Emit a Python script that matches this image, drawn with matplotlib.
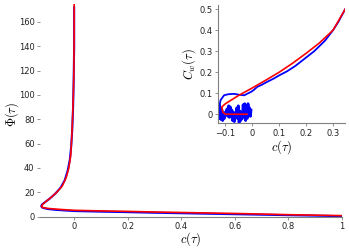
import matplotlib
matplotlib.use("Agg")
import matplotlib.pyplot as plt

plt.rcParams["mathtext.fontset"] = "cm"
plt.rcParams["font.family"] = ["DejaVu Sans"]

# main panel: Phi(tau) against c(tau)
MAIN_C_SIM = [0.0, 0.0, -0.002, -0.004, -0.007, -0.011, -0.016, -0.024, -0.035, -0.05,
              -0.07, -0.09, -0.108, -0.12, -0.123, -0.118, -0.1, -0.07, -0.03, 0.0,
              0.1, 0.2, 0.3, 0.4, 0.5, 0.6, 0.7, 0.8, 0.9, 1.0]
MAIN_PHI_SIM = [172, 140, 110, 90, 72, 58, 47, 38, 30, 24,
                19, 15, 12, 10, 8.5, 7.3, 6.3, 5.6, 5.0, 4.6,
                4.1, 3.7, 3.2, 2.8, 2.4, 2.0, 1.6, 1.2, 0.8, 0.4]
MAIN_C_TH = [0.0, 0.0, -0.001, -0.003, -0.006, -0.009, -0.013, -0.02, -0.03, -0.045,
             -0.065, -0.085, -0.105, -0.118, -0.122, -0.118, -0.1, -0.07, -0.03, 0.0,
             0.1, 0.2, 0.3, 0.4, 0.5, 0.6, 0.7, 0.8, 0.9, 1.0]
MAIN_PHI_TH = [175, 150, 120, 100, 80, 65, 50, 40, 32, 25,
               20, 16, 12.5, 10, 8.5, 7.5, 6.8, 6.2, 5.6, 5.2,
               4.7, 4.3, 3.8, 3.4, 3.0, 2.6, 2.1, 1.6, 1.2, 0.8]

# inset: C_w(tau) against c(tau)
INSET_C_TH = [-0.02, -0.06, -0.1, -0.11, -0.113, -0.1, -0.05, 0.0, 0.05, 0.1,
              0.15, 0.2, 0.25, 0.3, 0.345]
INSET_CW_TH = [0.0, 0.0, 0.0, 0.01, 0.035, 0.05, 0.09, 0.125, 0.162, 0.2,
               0.243, 0.29, 0.34, 0.4, 0.5]
INSET_C_SIM_UP = [-0.125, -0.122, -0.118, -0.105, -0.09, -0.068, -0.05, -0.03, -0.015, -0.005,
                  0.005, 0.018, 0.035, 0.055, 0.08, 0.1, 0.13, 0.16, 0.2, 0.23,
                  0.25, 0.27, 0.3, 0.32, 0.345]
INSET_CW_SIM_UP = [0.01, 0.04, 0.067, 0.09, 0.095, 0.097, 0.093, 0.09, 0.1, 0.106,
                   0.115, 0.13, 0.14, 0.154, 0.17, 0.185, 0.205, 0.23, 0.27, 0.3,
                   0.325, 0.35, 0.4, 0.44, 0.5]
INSET_C_SIM_LOW = [-0.125, -0.123, -0.121, -0.119, -0.116, -0.113, -0.11, -0.107, -0.104, -0.1,
                   -0.097, -0.094, -0.091, -0.088, -0.085, -0.082, -0.079, -0.076, -0.073, -0.07,
                   -0.067, -0.064, -0.061, -0.058, -0.055, -0.052, -0.049, -0.046, -0.043, -0.04,
                   -0.037, -0.034, -0.031, -0.028, -0.025, -0.022, -0.019, -0.016, -0.013, -0.01,
                   -0.007, -0.005]
INSET_CW_SIM_LOW = [0.01, 0.045, -0.02, 0.03, -0.025, 0.02, -0.03, 0.005, -0.02, 0.01,
                    0.0, 0.025, -0.01, 0.04, -0.015, 0.035, 0.005, 0.02, -0.03, 0.01,
                    -0.035, 0.0, -0.01, 0.03, -0.02, 0.04, -0.04, 0.015, -0.03, 0.0,
                    -0.02, 0.045, -0.01, 0.05, -0.03, 0.02, -0.02, 0.05, 0.0, 0.03,
                    -0.01, 0.02]

RED = "#ff0000"
BLUE = "#0000ff"
GREY = "#808080"

fig = plt.figure(figsize=(3.49, 2.49), dpi=100)

ax = fig.add_axes([0.115, 0.13, 0.865, 0.855])
ax.plot(MAIN_C_SIM, MAIN_PHI_SIM, color=BLUE, lw=1.5)
ax.plot(MAIN_C_TH, MAIN_PHI_TH, color=RED, lw=1.2)
ax.set_xlim(-0.127, 1.0)
ax.set_ylim(0, 175)
ax.set_xticks([0, 0.2, 0.4, 0.6, 0.8, 1])
ax.set_xticklabels(["0", "0.2", "0.4", "0.6", "0.8", "1"])
ax.set_yticks(range(0, 161, 20))
for s in ["top", "right", "left"]:
    ax.spines[s].set_visible(False)
ax.spines["bottom"].set_color(GREY)
ax.spines["bottom"].set_linewidth(0.8)
ax.tick_params(labelsize=6, length=2, width=0.6, color=GREY, pad=2, labelcolor="#222222")
ax.set_xlabel(r"$c(\tau)$", fontsize=9)
ax.xaxis.set_label_coords(0.5, -0.062)
ax.set_ylabel(r"$\Phi(\tau)$", fontsize=9)
ax.yaxis.set_label_coords(-0.065, 0.48)

ins = fig.add_axes([0.625, 0.505, 0.364, 0.475])
ins.plot(INSET_C_SIM_UP, INSET_CW_SIM_UP, color=BLUE, lw=1.3)
ins.plot(INSET_C_SIM_LOW, INSET_CW_SIM_LOW, color=BLUE, lw=2.0)
ins.plot(INSET_C_TH, INSET_CW_TH, color=RED, lw=1.2)
ins.set_xlim(-0.127, 0.345)
ins.set_ylim(-0.043, 0.52)
ins.set_xticks([-0.1, 0, 0.1, 0.2, 0.3])
ins.set_xticklabels(["\u22120.1", "0", "0.1", "0.2", "0.3"])
ins.set_yticks([0, 0.1, 0.2, 0.3, 0.4, 0.5])
ins.set_yticklabels(["0", "0.1", "0.2", "0.3", "0.4", "0.5"])
for s in ["top", "right"]:
    ins.spines[s].set_visible(False)
for s in ["left", "bottom"]:
    ins.spines[s].set_color(GREY)
    ins.spines[s].set_linewidth(0.8)
ins.tick_params(labelsize=6, length=2, width=0.6, color=GREY, pad=2, labelcolor="#222222")
ins.set_xlabel(r"$c(\tau)$", fontsize=9, labelpad=0)
ins.set_ylabel(r"$C_w(\tau)$", fontsize=9, labelpad=1)

fig.savefig("out.png", dpi=100)
